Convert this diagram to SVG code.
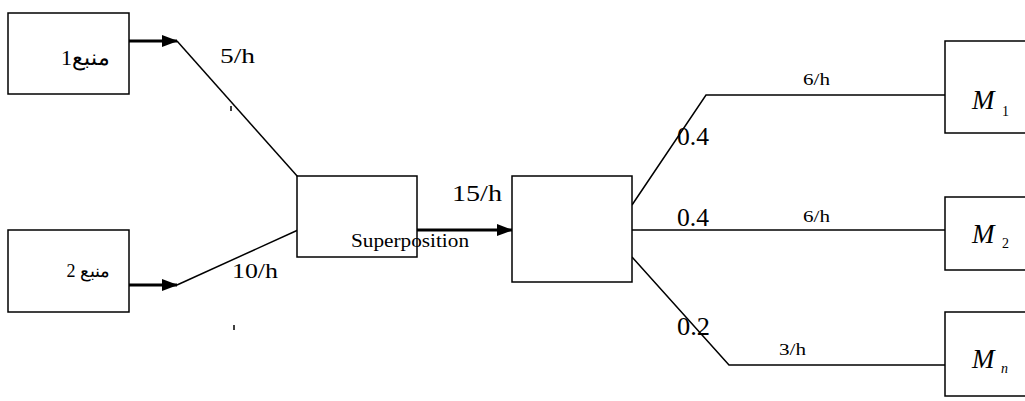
<svg xmlns="http://www.w3.org/2000/svg" width="1025" height="401" viewBox="0 0 1025 401">
<defs>
<marker id="arr" viewBox="0 0 16 12" refX="15" refY="6" markerWidth="16" markerHeight="12" markerUnits="userSpaceOnUse" orient="auto">
<path d="M0,0 L16,6 L0,12 Z" fill="#000"/>
</marker>
<style>
.box{fill:#fff;stroke:#000;stroke-width:1.5}
.ln{fill:none;stroke:#000;stroke-width:1.5}
.ar{fill:none;stroke:#000;stroke-width:3}
text{font-family:"Liberation Serif","Times New Roman","DejaVu Serif",serif;fill:#000}
.m{font-style:italic;font-size:27px}
.sub{font-size:14px}
</style>
</defs>
<rect width="1025" height="401" fill="#fff"/>
<g id="connectors">
<line class="ar" x1="129" y1="41" x2="177" y2="41" marker-end="url(#arr)"/>
<line class="ln" x1="177" y1="41" x2="298" y2="177"/>
<line class="ar" x1="129" y1="285" x2="177" y2="285" marker-end="url(#arr)"/>
<line class="ln" x1="177" y1="285" x2="298" y2="230"/>
<line class="ar" x1="417" y1="230" x2="512" y2="230" marker-end="url(#arr)"/>
<polyline class="ln" points="632,205 706,95 945,95"/>
<line class="ln" x1="632" y1="230" x2="945" y2="230"/>
<polyline class="ln" points="632,257 729,365 945,365"/>
<line x1="231" y1="106" x2="231" y2="111" stroke="#000" stroke-width="1.5"/>
<line x1="234" y1="325" x2="234" y2="330" stroke="#000" stroke-width="1.5"/>
<text x="220" y="63" font-size="21" textLength="35" lengthAdjust="spacingAndGlyphs">5/h</text>
<text x="232" y="278" font-size="22" textLength="46" lengthAdjust="spacingAndGlyphs">10/h</text>
<text x="452" y="201" font-size="23" textLength="50" lengthAdjust="spacingAndGlyphs">15/h</text>
<text x="803" y="85" font-size="17" textLength="27" lengthAdjust="spacingAndGlyphs">6/h</text>
<text x="677" y="145" font-size="25" textLength="32" lengthAdjust="spacingAndGlyphs">0.4</text>
<text x="677" y="226" font-size="25" textLength="32" lengthAdjust="spacingAndGlyphs">0.4</text>
<text x="803" y="222" font-size="17" textLength="27" lengthAdjust="spacingAndGlyphs">6/h</text>
<text x="677" y="335" font-size="25" textLength="33" lengthAdjust="spacingAndGlyphs">0.2</text>
<text x="779" y="355" font-size="17" textLength="27" lengthAdjust="spacingAndGlyphs">3/h</text>
</g>
<g id="source1">
<rect class="box" x="8" y="13" width="121" height="81"/>
<text x="110" y="65" font-size="22" direction="rtl" text-anchor="start">منبع1</text>
</g>
<g id="source2">
<rect class="box" x="8" y="230" width="121" height="82"/>
<text x="110" y="277" font-size="18" direction="rtl" text-anchor="start">منبع 2</text>
</g>
<g id="superposition">
<rect class="box" x="297" y="176" width="120" height="81"/>
<text x="351" y="247" font-size="19" textLength="118" lengthAdjust="spacingAndGlyphs">Superposition</text>
</g>
<g id="splitter">
<rect class="box" x="512" y="176" width="120" height="106"/>
</g>
<g id="m1">
<rect class="box" x="945" y="41" width="90" height="92"/>
<text class="m" x="972" y="109">M</text>
<text class="sub" x="1002" y="116">1</text>
</g>
<g id="m2">
<rect class="box" x="945" y="197" width="90" height="73"/>
<text class="m" x="972" y="243">M</text>
<text class="sub" x="1002" y="248">2</text>
</g>
<g id="mn">
<rect class="box" x="945" y="312" width="90" height="84"/>
<text class="m" x="972" y="368">M</text>
<text class="sub" x="1001" y="373" font-style="italic">n</text>
</g>
</svg>
